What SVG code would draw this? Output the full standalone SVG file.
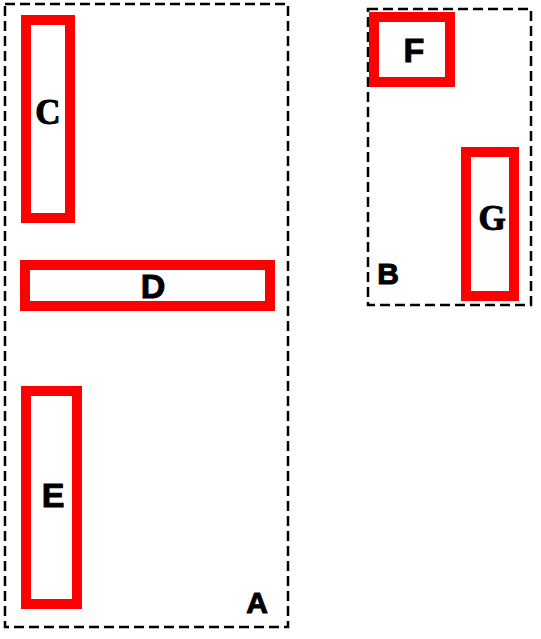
<svg xmlns="http://www.w3.org/2000/svg" width="541" height="639" viewBox="0 0 541 639">
<style>
.cluster{fill:none;stroke:#000;stroke-width:2.5;stroke-dasharray:10,5}
.node{fill:#fff;stroke:#f00;stroke-width:10}
.lbl{font-family:"Liberation Sans",Arial,sans-serif;font-weight:bold;font-size:34px;text-anchor:middle;fill:#000;stroke:#000;stroke-width:1}
.ser{font-family:"Liberation Serif","Times New Roman",serif;font-weight:bold;font-size:35px;text-anchor:middle;fill:#000;stroke:#000;stroke-width:1}
.cl{font-family:"Liberation Sans",Arial,sans-serif;font-weight:bold;font-size:30px;text-anchor:middle;fill:#000;stroke:#000;stroke-width:1}
</style>
<rect width="541" height="639" fill="#fff"/>
<g id="A">
<rect class="cluster" x="5" y="4" width="283" height="623"/>
<text class="cl" x="257" y="613">A</text>
</g>
<g id="B">
<rect class="cluster" x="368" y="9" width="163" height="296"/>
<text class="cl" x="388" y="284">B</text>
</g>
<g id="C">
<rect class="node" x="26" y="20" width="44" height="198"/>
<text class="ser" x="48" y="124">C</text>
</g>
<g id="D">
<rect class="node" x="25" y="265" width="245" height="41"/>
<text class="lbl" x="153" y="298">D</text>
</g>
<g id="E">
<rect class="node" x="26" y="391" width="51" height="213"/>
<text class="lbl" x="53" y="507">E</text>
</g>
<g id="F">
<rect class="node" x="374" y="17" width="76" height="65"/>
<text class="lbl" x="414" y="62">F</text>
</g>
<g id="G">
<rect class="node" x="466" y="152" width="48" height="144"/>
<text class="ser" x="492" y="230">G</text>
</g>
<g id="connectors"></g>
</svg>
